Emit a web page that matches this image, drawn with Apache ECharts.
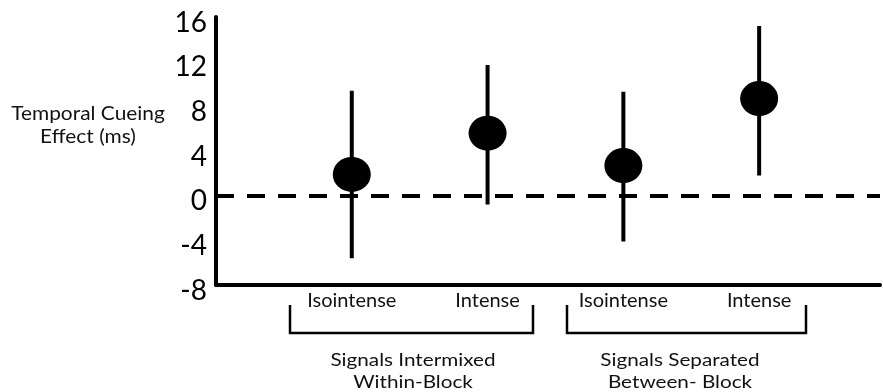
<!DOCTYPE html>
<html>
<head>
<meta charset="utf-8">
<script src="https://cdn.jsdelivr.net/npm/echarts@6/dist/echarts.min.js"></script>
<style>
  html, body { margin: 0; padding: 0; background: #fff; }
  #chart { width: 883px; height: 392px; }
</style>
</head>
<body>
<div id="chart"></div>
<script>
// Temporal cueing effect (ms): condition means with error-bar limits
const conditions = ['Isointense', 'Intense', 'Isointense', 'Intense'];
const means = [1.9, 5.6, 2.7, 8.7];
const upper = [9.4, 11.7, 9.3, 15.2];
const lower = [-5.6, -0.8, -4.1, 1.8];
const groupNames = ['Signals Intermixed\nWithin-Block', 'Signals Separated\nBetween- Block'];
const yAxisTitle = 'Temporal Cueing\nEffect (ms)';

const FONT = 'Lato, "Noto Sans", sans-serif';
const INK = '#000';

// conditions sit at x = 1..n on the horizontal scale
const positions = conditions.map((_, i) => i + 1);
const pointData = positions.map((x, i) => [x, means[i]]);
const barData = positions.map((x, i) => [x, lower[i], upper[i]]);

const chart = echarts.init(document.getElementById('chart'), null, { renderer: 'canvas' });

// a slightly widened text block, centred on (x, y)
function caption(x, y, text, size, lineHeight, stretch) {
  return {
    type: 'text',
    x: x,
    y: y,
    scaleX: stretch,
    style: {
      text: text,
      font: size + 'px ' + FONT,
      fill: '#111',
      align: 'center',
      verticalAlign: 'middle',
      lineHeight: lineHeight
    }
  };
}

chart.setOption({
  animation: false,
  backgroundColor: '#fff',
  grid: { left: 216, right: 0, top: 17, bottom: 107, containLabel: false },
  xAxis: {
    type: 'value',
    min: 0,
    max: 4.89,
    interval: 1,
    axisLine: { show: true, onZero: false, lineStyle: { color: INK, width: 4 } },
    axisTick: { show: false },
    splitLine: { show: false },
    axisLabel: {
      margin: 6,
      fontFamily: FONT,
      fontSize: 20,
      color: '#111',
      showMinLabel: true,
      showMaxLabel: true,
      formatter: v => {
        const i = Math.round(v) - 1;
        return Math.abs(v - Math.round(v)) < 1e-6 && i >= 0 && i < conditions.length ? conditions[i] : '';
      }
    }
  },
  yAxis: {
    type: 'value',
    min: -8,
    max: 16,
    interval: 4,
    axisLine: { show: true, onZero: false, lineStyle: { color: INK, width: 4 } },
    axisTick: { show: false },
    splitLine: { show: false },
    axisLabel: {
      margin: 9,
      fontFamily: FONT,
      fontSize: 28,
      color: INK,
      verticalAlign: 'top',
      lineHeight: 11
    }
  },
  series: [
    {
      type: 'custom',
      name: 'range',
      data: barData,
      encode: { x: 0, y: [1, 2] },
      z: 2,
      renderItem: (params, api) => {
        const top = api.coord([api.value(0), api.value(2)]);
        const bottom = api.coord([api.value(0), api.value(1)]);
        return {
          type: 'line',
          shape: { x1: top[0], y1: top[1], x2: bottom[0], y2: bottom[1] },
          style: { stroke: INK, lineWidth: 4 }
        };
      }
    },
    {
      type: 'scatter',
      name: 'mean',
      data: pointData,
      symbol: 'path://M50,0 A50,50 0 1,1 50,100 A50,50 0 1,1 50,0 Z',
      symbolKeepAspect: false,
      symbolSize: [38, 35],
      itemStyle: { color: INK, opacity: 1 },
      z: 3,
      markLine: {
        silent: true,
        symbol: ['none', 'none'],
        label: { show: false },
        lineStyle: { color: INK, width: 4, type: [18, 13] },
        data: [{ yAxis: 0 }]
      }
    }
  ],
  graphic: [
    caption(88, 125, yAxisTitle, 19, 23, 1.1),
    {
      type: 'polyline',
      shape: { points: [[290, 305], [290, 333], [533, 333], [533, 305]] },
      style: { stroke: INK, lineWidth: 2.5, fill: null }
    },
    {
      type: 'polyline',
      shape: { points: [[567, 305], [567, 333], [806, 333], [806, 305]] },
      style: { stroke: INK, lineWidth: 2.5, fill: null }
    },
    caption(413, 371, groupNames[0], 18, 22, 1.15),
    caption(680, 371, groupNames[1], 18, 22, 1.15)
  ]
});
</script>
</body>
</html>
